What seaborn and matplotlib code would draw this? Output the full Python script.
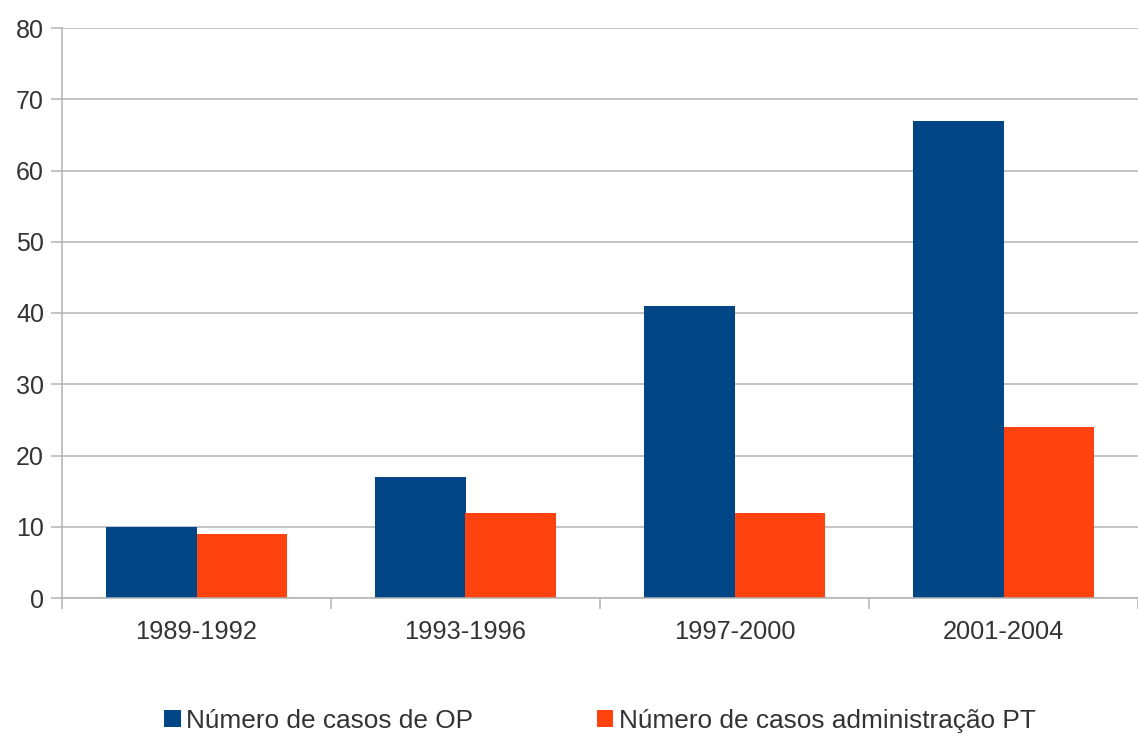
import matplotlib
matplotlib.use("Agg")
import matplotlib.pyplot as plt
from matplotlib.ticker import FixedLocator, MultipleLocator
import seaborn as sns
import pandas as pd

categories = ["1989-1992", "1993-1996", "1997-2000", "2001-2004"]
series_names = ["Número de casos de OP", "Número de casos administração PT"]
op_values = [10, 17, 41, 67]
pt_values = [9, 12, 12, 24]
colors = ["#004586", "#ff420e"]

df = pd.DataFrame({
    "periodo": categories * 2,
    "valor": op_values + pt_values,
    "serie": [series_names[0]] * 4 + [series_names[1]] * 4,
})

sns.set_theme(style="white")
plt.rcParams["font.family"] = ["Liberation Sans", "DejaVu Sans"]

fig = plt.figure(figsize=(11.38, 7.36), dpi=100)
ax = fig.add_axes([62 / 1138, 1 - 598 / 736, 1 - 62 / 1138, (598 - 28) / 736])

sns.barplot(data=df, x="periodo", y="valor", hue="serie", order=categories,
            hue_order=series_names, palette=colors, width=0.672, gap=0,
            saturation=1, linewidth=0, ax=ax)

ax.set_xlim(-0.5, 3.5)
ax.set_ylim(0, 80)
ax.yaxis.set_major_locator(MultipleLocator(10))
ax.grid(axis="y", color="#b3b3b3", linewidth=1.1)
ax.set_axisbelow(True)
for s in ["top", "right"]:
    ax.spines[s].set_visible(False)
for s in ["left", "bottom"]:
    ax.spines[s].set_color("#b3b3b3")
    ax.spines[s].set_linewidth(1.1)

ax.set_xlabel("")
ax.set_ylabel("")
ax.xaxis.set_minor_locator(FixedLocator([-0.5, 0.5, 1.5, 2.5, 3.5]))
ax.tick_params(axis="x", which="major", length=0, pad=16, labelsize=18.3, labelcolor="#333333")
ax.tick_params(axis="x", which="minor", length=8, width=1.1, color="#b3b3b3", direction="out")
ax.tick_params(axis="y", which="major", length=8, width=1.1, color="#b3b3b3", direction="out",
               pad=5, labelsize=18, labelcolor="#333333")
ax.tick_params(left=True, bottom=True, which="both")

leg = ax.legend(loc="center", bbox_to_anchor=(0.5, (598 - 721) / 570), ncol=2, frameon=False,
                fontsize=18.9, handlelength=0.62, handleheight=0.62, handletextpad=0.22,
                columnspacing=4.7, labelcolor="#333333")

fig.savefig("out.png", dpi=100)
